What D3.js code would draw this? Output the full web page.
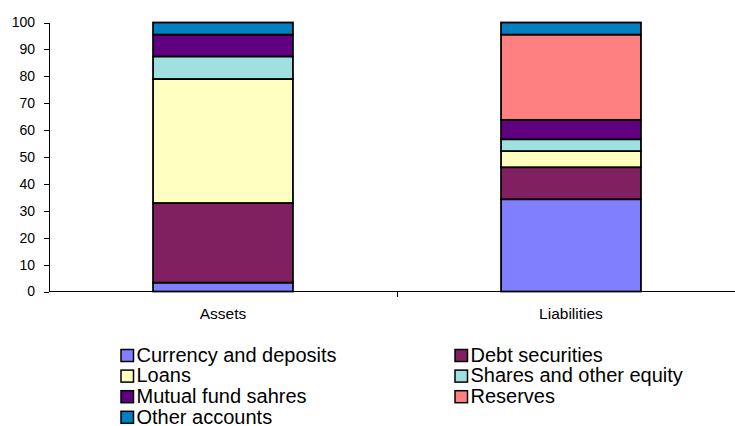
<!DOCTYPE html>
<html>
<head>
  <meta charset="utf-8">
  <style>
    html, body { margin: 0; overflow: hidden; background: #fff; }
    svg { display: block; }
    text { font-family: "Liberation Sans", Arial, sans-serif; fill: #000; }
    .bar rect { stroke: #000; stroke-width: 1.8px; }
    .axis path, .axis line { stroke: #000; stroke-width: 1px; shape-rendering: crispEdges; }
  </style>
  <script src="https://d3js.org/d3.v7.min.js"></script>
</head>
<body>
  <svg id="chart" width="735" height="426"></svg>
  <script>
    var categories = ["Assets", "Liabilities"];
    var seriesNames = ["Currency and deposits", "Debt securities", "Loans",
      "Shares and other equity", "Mutual fund sahres", "Reserves", "Other accounts"];
    var seriesColors = ["#8080ff", "#802060", "#ffffc0", "#a0e0e0", "#600080", "#ff8080", "#0080c0"];
    var assets      = [3.3, 29.6, 46.1, 8.4, 8.1, 0, 4.5];
    var liabilities = [34.3, 11.9, 6.0, 4.4, 7.2, 31.7, 4.5];
    var yTicks = [0, 10, 20, 30, 40, 50, 60, 70, 80, 90, 100];

    var margin = {top: 22.5, left: 49, bottom: 134.5};
    var plotW = 696;
    var plotH = 426 - margin.top - margin.bottom;

    var svg = d3.select("#chart");

    var x = d3.scaleBand().domain(categories).range([0, plotW]).paddingInner(0).paddingOuter(0);
    var y = d3.scaleLinear().domain([0, 100]).range([plotH, 0]);

    var rows = categories.map(function(c, i) {
      var vals = i === 0 ? assets : liabilities;
      var o = {cat: c};
      seriesNames.forEach(function(s, j) { o[s] = vals[j]; });
      return o;
    });
    var stacked = d3.stack().keys(seriesNames)(rows);

    var g = svg.append("g")
      .attr("transform", "translate(" + margin.left + "," + margin.top + ")");

    var barW = x.bandwidth() * 0.402;

    // y axis first so bars sit over it
    var yAxis = g.append("g").attr("class", "axis")
      .call(d3.axisLeft(y).tickValues(yTicks).tickSize(5).tickSizeOuter(0).tickPadding(9));
    yAxis.selectAll("text").style("font-size", "14px");

    var layers = g.selectAll(".bar").data(stacked).enter().append("g")
      .attr("class", "bar")
      .style("fill", function(d, i) { return seriesColors[i]; });
    layers.selectAll("rect")
      .data(function(d) { return d.filter(function(p) { return p[1] - p[0] > 0; }); })
      .enter().append("rect")
      .attr("x", function(d) { return x(d.data.cat) + (x.bandwidth() - barW) / 2; })
      .attr("width", barW)
      .attr("y", function(d) { return y(d[1]); })
      .attr("height", function(d) { return y(d[0]) - y(d[1]); });

    // x axis, ticks between categories
    var xAxisG = g.append("g").attr("class", "axis")
      .attr("transform", "translate(0," + plotH + ")");
    xAxisG.append("line").attr("x1", 0).attr("x2", plotW).attr("y1", 0).attr("y2", 0);
    xAxisG.selectAll(".tk").data([plotW / 2, plotW]).enter().append("line")
      .attr("class", "tk")
      .attr("x1", function(d) { return d; }).attr("x2", function(d) { return d; })
      .attr("y1", 0).attr("y2", 5);
    xAxisG.selectAll(".lbl").data(categories).enter().append("text")
      .attr("x", function(d) { return x(d) + x.bandwidth() / 2; })
      .attr("y", 27)
      .attr("text-anchor", "middle")
      .style("font-size", "15.5px")
      .text(function(d) { return d; });

    // legend
    var legend = svg.append("g").attr("transform", "translate(121,349.5)");
    var items = legend.selectAll(".item").data(seriesNames).enter().append("g")
      .attr("class", "item")
      .attr("transform", function(d, i) {
        return "translate(" + ((i % 2) * 334) + "," + (Math.floor(i / 2) * 20.6) + ")";
      });
    items.append("rect")
      .attr("width", 12.5).attr("height", 12)
      .attr("fill", function(d, i) { return seriesColors[i]; })
      .attr("stroke", "#000").attr("stroke-width", 1.5);
    items.append("text")
      .attr("x", 15.5).attr("y", 12.3)
      .style("font-size", "20px")
      .text(function(d) { return d; });
  </script>
</body>
</html>
